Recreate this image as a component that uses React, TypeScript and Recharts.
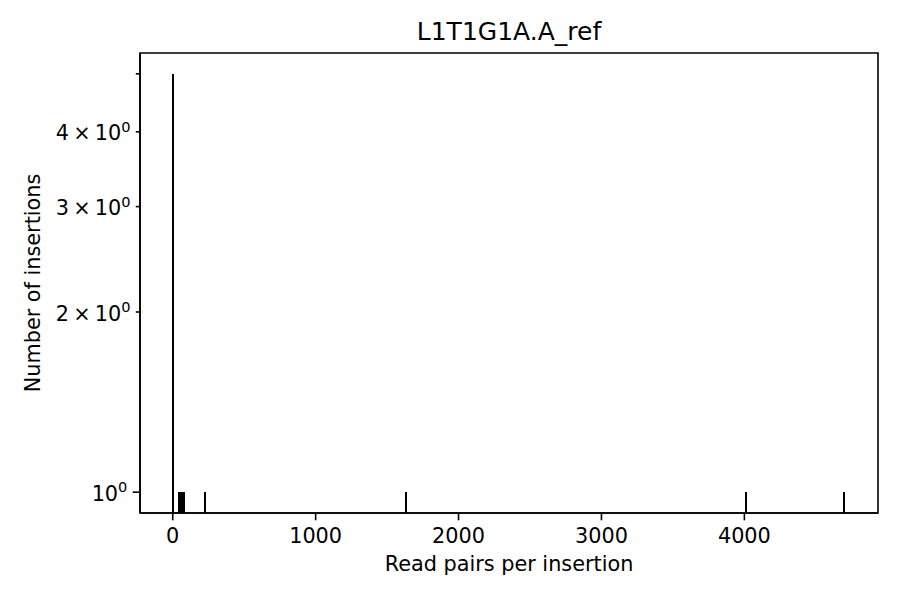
import React from 'react';
import { ComposedChart, Bar, XAxis, YAxis, Label, ReferenceArea } from 'recharts';

// histogram bins (centre of bin, count)
const binCenters = [4, 44, 60, 76, 226, 1631, 4010, 4699];
const binCounts = [5, 1, 1, 1, 1, 1, 1, 1];
const binWidth = 16;

const xTicks = [0, 1000, 2000, 3000, 4000];
const yTicks = [1, 2, 3, 4, 5];
// mantissa shown on the log ticks, 5 has a tick but no label
const yTickLabels: Record<number, string> = { 1: '', 2: '2', 3: '3', 4: '4' };

const xDomain: [number, number] = [-229, 4935];
const yDomain: [number, number] = [0.923, 5.417];

const title = 'L1T1G1A.A_ref';
const xLabel = 'Read pairs per insertion';
const yLabel = 'Number of insertions';

const W = 900;
const H = 600;
const margin = { top: 53, right: 22, bottom: 0, left: 0 };
const yAxisWidth = 140;
const xAxisHeight = 87;
const plotW = W - margin.left - margin.right - yAxisWidth;
const plotH = H - margin.top - margin.bottom - xAxisHeight;

const FONT = 20.8;
const LW = 1.6;

const data = binCenters.map((c, i) => ({ x: c, count: binCounts[i] }));
const barPx = (binWidth * plotW) / (xDomain[1] - xDomain[0]);

function YTick({ x, y, payload }: any) {
  const v = payload.value;
  const major = v === 1;
  const len = major ? 7.3 : 4.2;
  const tx = x - len - 7.3 + 2;
  const base = y + 8.6;
  let label: React.ReactNode = null;
  if (v in yTickLabels) {
    const m = yTickLabels[v];
    label = (
      <text x={tx} y={base} textAnchor="end" fontSize={FONT} fill="#000">
        {m ? `${m}\u2009×\u200910` : '10'}
        <tspan dy={-8.5} fontSize={14.6}>0</tspan>
      </text>
    );
  }
  return (
    <g>
      <line x1={x - len} x2={x} y1={y} y2={y} stroke="#000" strokeWidth={LW} />
      {label}
    </g>
  );
}

function XTick({ x, y, payload }: any) {
  return (
    <g>
      <line x1={x} x2={x} y1={y} y2={y + 7.3} stroke="#000" strokeWidth={LW} />
      <text x={x} y={y + 29.5} textAnchor="middle" fontSize={FONT} fill="#000">
        {payload.value}
      </text>
    </g>
  );
}

function BinBar(p: any) {
  return <rect x={p.x} y={p.y} width={p.width} height={p.height} fill="#000" shapeRendering="crispEdges" />;
}

export default function App() {
  const left = margin.left + yAxisWidth;
  return (
    <div style={{ width: W, height: H, fontFamily: 'DejaVu Sans', background: '#fff' }}>
      <style>{'body{margin:0}'}</style>
      <ComposedChart width={W} height={H} data={data} margin={margin} barCategoryGap={0} barGap={0}>
        <XAxis
          dataKey="x"
          type="number"
          domain={xDomain}
          allowDataOverflow
          ticks={xTicks}
          interval={0}
          height={xAxisHeight}
          tickSize={0}
          tickMargin={0}
          tickLine={false}
          tick={<XTick />}
          axisLine={{ stroke: '#000', strokeWidth: LW }}
        >
          <Label
            content={() => (
              <text x={left + plotW / 2} y={571} textAnchor="middle" fontSize={FONT} fill="#000">
                {xLabel}
              </text>
            )}
          />
          <Label
            content={() => (
              <text x={left + plotW / 2} y={40} textAnchor="middle" fontSize={25} fill="#000">
                {title}
              </text>
            )}
          />
        </XAxis>
        <YAxis
          type="number"
          scale="log"
          domain={yDomain}
          allowDataOverflow
          ticks={yTicks}
          interval={0}
          width={yAxisWidth}
          tickSize={0}
          tickMargin={0}
          tickLine={false}
          tick={<YTick />}
          axisLine={{ stroke: '#000', strokeWidth: LW }}
        >
          <Label
            content={() => (
              <text
                x={40}
                y={margin.top + plotH / 2}
                textAnchor="middle"
                fontSize={FONT}
                fill="#000"
                transform={`rotate(-90, 40, ${margin.top + plotH / 2})`}
              >
                {yLabel}
              </text>
            )}
          />
        </YAxis>
        <Bar dataKey="count" fill="#000" barSize={barPx} shape={<BinBar />} isAnimationActive={false} />
        {/* axes frame */}
        <ReferenceArea
          x1={xDomain[0]}
          x2={xDomain[1]}
          y1={yDomain[0]}
          y2={yDomain[1]}
          fill="none"
          fillOpacity={0}
          stroke="#000"
          strokeWidth={LW}
          ifOverflow="visible"
        />
      </ComposedChart>
    </div>
  );
}
